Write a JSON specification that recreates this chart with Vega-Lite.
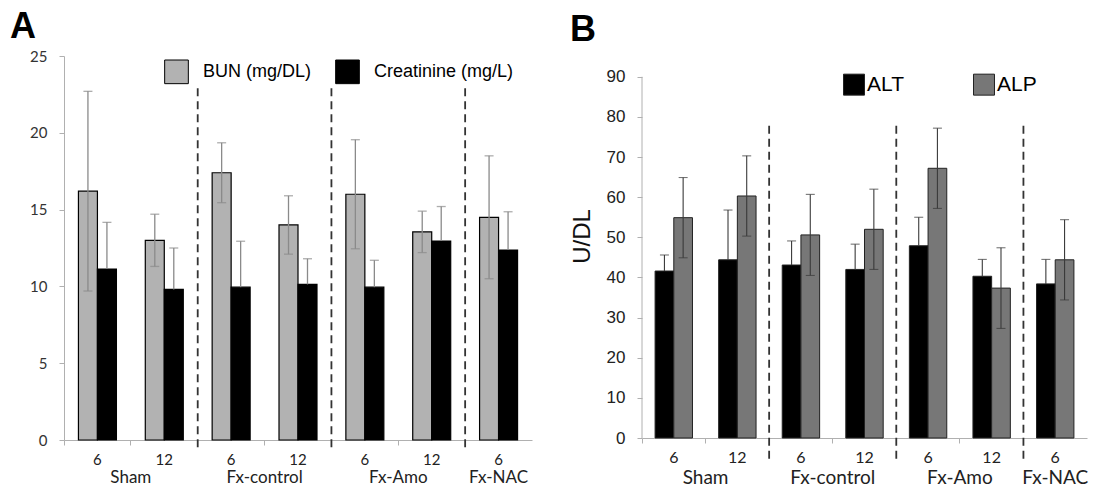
{
  "$schema": "https://vega.github.io/schema/vega-lite/v6.json",
  "padding": {"left": 10, "top": 9, "right": 0, "bottom": 0},
  "background": "white",
  "spacing": 38,
  "resolve": {"scale": {"xOffset": "independent", "fill": "independent"}, "legend": {"fill": "independent"}},
  "config": {
    "view": {"stroke": null},
    "axis": {"grid": false},
    "legend": {"padding": 0, "offset": 0}
  },
  "datasets": {
    "a": [
      {"cat": "Sham|6", "series": "BUN (mg/DL)", "value": 16.2, "lo": 9.7, "hi": 22.7},
      {"cat": "Sham|12", "series": "BUN (mg/DL)", "value": 13.0, "lo": 11.3, "hi": 14.7},
      {"cat": "Fx-control|6", "series": "BUN (mg/DL)", "value": 17.4, "lo": 15.45, "hi": 19.35},
      {"cat": "Fx-control|12", "series": "BUN (mg/DL)", "value": 14.0, "lo": 12.1, "hi": 15.9},
      {"cat": "Fx-Amo|6", "series": "BUN (mg/DL)", "value": 16.0, "lo": 12.45, "hi": 19.55},
      {"cat": "Fx-Amo|12", "series": "BUN (mg/DL)", "value": 13.55, "lo": 12.2, "hi": 14.9},
      {"cat": "Fx-NAC|6", "series": "BUN (mg/DL)", "value": 14.5, "lo": 10.5, "hi": 18.5},
      {"cat": "Sham|6", "series": "Creatinine (mg/L)", "value": 11.13, "lo": 11.13, "hi": 14.17},
      {"cat": "Sham|12", "series": "Creatinine (mg/L)", "value": 9.8, "lo": 9.8, "hi": 12.5},
      {"cat": "Fx-control|6", "series": "Creatinine (mg/L)", "value": 9.95, "lo": 9.95, "hi": 12.94},
      {"cat": "Fx-control|12", "series": "Creatinine (mg/L)", "value": 10.13, "lo": 10.13, "hi": 11.8},
      {"cat": "Fx-Amo|6", "series": "Creatinine (mg/L)", "value": 9.95, "lo": 9.95, "hi": 11.7},
      {"cat": "Fx-Amo|12", "series": "Creatinine (mg/L)", "value": 12.95, "lo": 12.95, "hi": 15.2},
      {"cat": "Fx-NAC|6", "series": "Creatinine (mg/L)", "value": 12.37, "lo": 12.37, "hi": 14.86}
    ],
    "b": [
      {"cat": "Sham|6", "series": "ALT", "value": 41.6, "lo": 41.6, "hi": 45.6},
      {"cat": "Sham|12", "series": "ALT", "value": 44.4, "lo": 44.4, "hi": 56.8},
      {"cat": "Fx-control|6", "series": "ALT", "value": 43.1, "lo": 43.1, "hi": 49.1},
      {"cat": "Fx-control|12", "series": "ALT", "value": 42.0, "lo": 42.0, "hi": 48.3},
      {"cat": "Fx-Amo|6", "series": "ALT", "value": 47.9, "lo": 47.9, "hi": 55.0},
      {"cat": "Fx-Amo|12", "series": "ALT", "value": 40.3, "lo": 40.3, "hi": 44.5},
      {"cat": "Fx-NAC|6", "series": "ALT", "value": 38.4, "lo": 38.4, "hi": 44.5},
      {"cat": "Sham|6", "series": "ALP", "value": 54.9, "lo": 44.9, "hi": 64.9},
      {"cat": "Sham|12", "series": "ALP", "value": 60.3, "lo": 50.3, "hi": 70.3},
      {"cat": "Fx-control|6", "series": "ALP", "value": 50.6, "lo": 40.5, "hi": 60.7},
      {"cat": "Fx-control|12", "series": "ALP", "value": 52.0, "lo": 42.0, "hi": 62.0},
      {"cat": "Fx-Amo|6", "series": "ALP", "value": 67.2, "lo": 57.2, "hi": 77.2},
      {"cat": "Fx-Amo|12", "series": "ALP", "value": 37.35, "lo": 27.3, "hi": 47.4},
      {"cat": "Fx-NAC|6", "series": "ALP", "value": 44.4, "lo": 34.4, "hi": 54.4}
    ]
  },
  "hconcat": [
    {
      "width": 468,
      "height": 384,
      "title": {"text": "A", "anchor": "start", "frame": "group", "dx": -54, "offset": -25, "baseline": "alphabetic", "fontSize": 36, "fontWeight": "bold", "font": "Liberation Sans", "color": "black"},
      "data": {"name": "a"},
      "encoding": {
        "x": {"field": "cat", "type": "nominal", "title": null,
          "scale": {"domain": ["Sham|6", "Sham|12", "Fx-control|6", "Fx-control|12", "Fx-Amo|6", "Fx-Amo|12", "Fx-NAC|6"], "paddingInner": 0, "paddingOuter": 0},
          "axis": {"title": null, "bandPosition": 0, "labelExpr": "split(datum.label, '|')[1]", "labelAngle": 0, "labelFont": "Lato", "labelFontSize": 15, "labelColor": "#222", "labelPadding": 7, "tickSize": 5, "tickColor": "#b0b0b0", "domainColor": "#b0b0b0", "labelOverlap": false, "labelBound": false}}
      },
      "layer": [
        {
          "mark": {"type": "bar", "stroke": "black", "strokeWidth": 1.2},
          "encoding": {
            "xOffset": {"field": "series", "type": "nominal", "sort": ["BUN (mg/DL)", "Creatinine (mg/L)"], "scale": {"paddingInner": 0, "paddingOuter": 0.76}},
            "y": {"field": "value", "type": "quantitative", "title": null, "scale": {"domain": [0, 25], "nice": false},
              "axis": {"title": null, "values": [0, 5, 10, 15, 20, 25], "labelFont": "Lato", "labelFontSize": 15, "labelColor": "#333", "tickSize": 5, "labelPadding": 12, "tickColor": "#b0b0b0", "domainColor": "#b0b0b0"}},
            "fill": {"field": "series", "type": "nominal", "scale": {"domain": ["BUN (mg/DL)", "Creatinine (mg/L)"], "range": ["#b2b2b2", "#000000"]},
              "legend": {"title": null, "orient": "none", "legendX": 100, "legendY": 3, "direction": "horizontal", "symbolType": "square", "symbolSize": 560, "symbolStrokeColor": "black", "symbolStrokeWidth": 1, "labelFont": "Liberation Sans", "labelFontSize": 18, "labelColor": "black", "labelOffset": 14, "columnPadding": 21, "labelLimit": 300}}
          }
        },
        {
          "mark": {"type": "rule", "color": "#8a8a8a", "strokeWidth": 1.3},
          "encoding": {
            "xOffset": {"field": "series", "type": "nominal", "sort": ["BUN (mg/DL)", "Creatinine (mg/L)"], "scale": {"paddingInner": 0, "paddingOuter": 0.76}},
            "y": {"field": "lo", "type": "quantitative", "title": null},
            "y2": {"field": "hi"}
          }
        },
        {
          "mark": {"type": "tick", "color": "#8a8a8a", "thickness": 1.3, "size": 9, "orient": "horizontal"},
          "encoding": {
            "xOffset": {"field": "series", "type": "nominal", "sort": ["BUN (mg/DL)", "Creatinine (mg/L)"], "scale": {"paddingInner": 0, "paddingOuter": 0.76}},
            "y": {"field": "hi", "type": "quantitative", "title": null}
          }
        },
        {
          "transform": [{"filter": "datum.lo < datum.value"}],
          "mark": {"type": "tick", "color": "#8a8a8a", "thickness": 1.3, "size": 9, "orient": "horizontal"},
          "encoding": {
            "xOffset": {"field": "series", "type": "nominal", "sort": ["BUN (mg/DL)", "Creatinine (mg/L)"], "scale": {"paddingInner": 0, "paddingOuter": 0.76}},
            "y": {"field": "lo", "type": "quantitative", "title": null}
          }
        },
        {
          "data": {"values": [{"cat": "Fx-control|6"}, {"cat": "Fx-Amo|6"}, {"cat": "Fx-NAC|6"}]},
          "mark": {"type": "rule", "color": "#333", "strokeWidth": 1.8, "strokeDash": [8, 5]},
          "encoding": {
            "x": {"field": "cat", "type": "nominal", "bandPosition": 0, "title": null},
            "y": {"datum": 22.9, "type": "quantitative", "title": null},
            "y2": {"datum": -0.5}
          }
        },
        {
          "data": {"values": [{"cat": "Sham|6", "grp": "Sham"}, {"cat": "Fx-control|6", "grp": "Fx-control"}, {"cat": "Fx-Amo|6", "grp": "Fx-Amo"}]},
          "mark": {"type": "text", "dy": 38, "baseline": "middle", "align": "center", "font": "Lato", "fontSize": 17, "color": "#222"},
          "encoding": {
            "x": {"field": "cat", "type": "nominal", "bandPosition": 1, "title": null},
            "y": {"datum": 0, "type": "quantitative", "title": null},
            "text": {"field": "grp"}
          }
        },
        {
          "data": {"values": [{"cat": "Fx-NAC|6", "grp": "Fx-NAC"}]},
          "mark": {"type": "text", "dy": 38, "baseline": "middle", "align": "center", "font": "Lato", "fontSize": 17, "color": "#222"},
          "encoding": {
            "x": {"field": "cat", "type": "nominal", "bandPosition": 0.5, "title": null},
            "y": {"datum": 0, "type": "quantitative", "title": null},
            "text": {"field": "grp"}
          }
        }
      ]
    },
    {
      "width": 445,
      "height": 382,
      "title": {"text": "B", "anchor": "start", "frame": "group", "dx": -72, "offset": -21, "baseline": "alphabetic", "fontSize": 36, "fontWeight": "bold", "font": "Liberation Sans", "color": "black"},
      "data": {"name": "b"},
      "encoding": {
        "x": {"field": "cat", "type": "nominal", "title": null,
          "scale": {"domain": ["Sham|6", "Sham|12", "Fx-control|6", "Fx-control|12", "Fx-Amo|6", "Fx-Amo|12", "Fx-NAC|6"], "paddingInner": 0, "paddingOuter": 0},
          "axis": {"title": null, "bandPosition": 0, "labelExpr": "split(datum.label, '|')[1]", "labelAngle": 0, "labelFont": "Lato", "labelFontSize": 16, "labelColor": "#222", "labelPadding": 6, "tickSize": 5, "tickColor": "#b0b0b0", "domainColor": "#b0b0b0", "labelOverlap": false, "labelBound": false}}
      },
      "layer": [
        {
          "mark": {"type": "bar", "stroke": "#222", "strokeWidth": 1},
          "encoding": {
            "xOffset": {"field": "series", "type": "nominal", "sort": ["ALT", "ALP"], "scale": {"paddingInner": 0, "paddingOuter": 0.7}},
            "y": {"field": "value", "type": "quantitative", "scale": {"domain": [0, 95.18], "nice": false},
              "axis": {"title": "U/DL", "titleFont": "Liberation Sans", "titleFontSize": 24, "titleFontWeight": "normal", "titleColor": "#111", "titleAngle": -90, "titleX": -60, "titleY": 180, "titleAlign": "center", "titleBaseline": "middle", "domain": false,
                "values": [0, 10, 20, 30, 40, 50, 60, 70, 80, 90], "labelFont": "Liberation Sans", "labelFontSize": 17, "labelColor": "#222", "tickSize": 5, "labelPadding": 12, "tickColor": "#b0b0b0"}},
            "fill": {"field": "series", "type": "nominal", "scale": {"domain": ["ALT", "ALP"], "range": ["#000000", "#777777"]},
              "legend": {"title": null, "orient": "none", "legendX": 201, "legendY": 17.4, "direction": "horizontal", "symbolType": "square", "symbolSize": 440, "symbolStrokeColor": "#222", "symbolStrokeWidth": 1, "labelFont": "Liberation Sans", "labelFontSize": 21, "labelColor": "black", "labelOffset": 2, "columnPadding": 67}}
          }
        },
        {
          "data": {"values": [{"cat": "Sham|6"}]},
          "mark": {"type": "rule", "color": "#b0b0b0", "strokeWidth": 1},
          "encoding": {
            "x": {"field": "cat", "type": "nominal", "bandPosition": 0, "title": null},
            "y": {"datum": 0, "type": "quantitative", "title": "U/DL"},
            "y2": {"datum": 90}
          }
        },
        {
          "mark": {"type": "rule", "color": "#3a3a3a", "strokeWidth": 1.1},
          "encoding": {
            "xOffset": {"field": "series", "type": "nominal", "sort": ["ALT", "ALP"], "scale": {"paddingInner": 0, "paddingOuter": 0.7}},
            "y": {"field": "lo", "type": "quantitative", "title": "U/DL"},
            "y2": {"field": "hi"}
          }
        },
        {
          "mark": {"type": "tick", "color": "#3a3a3a", "thickness": 1.1, "size": 9, "orient": "horizontal"},
          "encoding": {
            "xOffset": {"field": "series", "type": "nominal", "sort": ["ALT", "ALP"], "scale": {"paddingInner": 0, "paddingOuter": 0.7}},
            "y": {"field": "hi", "type": "quantitative", "title": "U/DL"}
          }
        },
        {
          "transform": [{"filter": "datum.lo < datum.value"}],
          "mark": {"type": "tick", "color": "#3a3a3a", "thickness": 1.1, "size": 9, "orient": "horizontal"},
          "encoding": {
            "xOffset": {"field": "series", "type": "nominal", "sort": ["ALT", "ALP"], "scale": {"paddingInner": 0, "paddingOuter": 0.7}},
            "y": {"field": "lo", "type": "quantitative", "title": "U/DL"}
          }
        },
        {
          "data": {"values": [{"cat": "Fx-control|6"}, {"cat": "Fx-Amo|6"}, {"cat": "Fx-NAC|6"}]},
          "mark": {"type": "rule", "color": "#333", "strokeWidth": 1.8, "strokeDash": [8, 5]},
          "encoding": {
            "x": {"field": "cat", "type": "nominal", "bandPosition": 0, "title": null},
            "y": {"datum": 77.8, "type": "quantitative", "title": "U/DL"},
            "y2": {"datum": -6}
          }
        },
        {
          "data": {"values": [{"cat": "Sham|6", "grp": "Sham"}, {"cat": "Fx-control|6", "grp": "Fx-control"}, {"cat": "Fx-Amo|6", "grp": "Fx-Amo"}]},
          "mark": {"type": "text", "dy": 40, "baseline": "middle", "align": "center", "font": "Lato", "fontSize": 19, "color": "#222"},
          "encoding": {
            "x": {"field": "cat", "type": "nominal", "bandPosition": 1, "title": null},
            "y": {"datum": 0, "type": "quantitative", "title": "U/DL"},
            "text": {"field": "grp"}
          }
        },
        {
          "data": {"values": [{"cat": "Fx-NAC|6", "grp": "Fx-NAC"}]},
          "mark": {"type": "text", "dy": 40, "baseline": "middle", "align": "center", "font": "Lato", "fontSize": 19, "color": "#222"},
          "encoding": {
            "x": {"field": "cat", "type": "nominal", "bandPosition": 0.5, "title": null},
            "y": {"datum": 0, "type": "quantitative", "title": "U/DL"},
            "text": {"field": "grp"}
          }
        }
      ]
    }
  ]
}
